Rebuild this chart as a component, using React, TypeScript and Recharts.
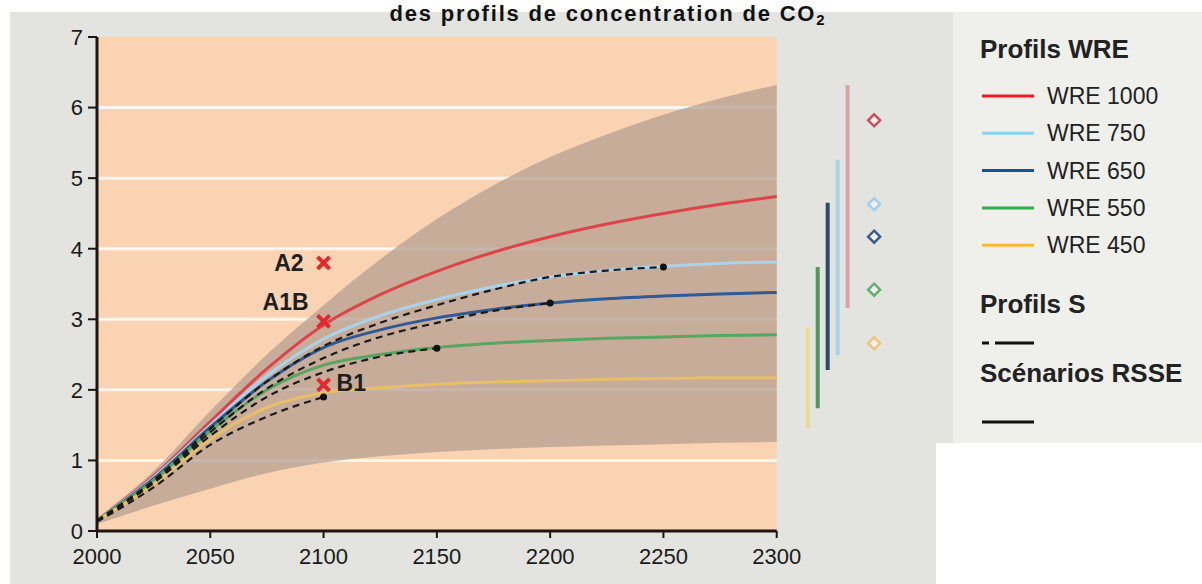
import React from 'react';
import { ComposedChart, Line, Area, XAxis, YAxis, ReferenceArea, ReferenceLine, Scatter } from 'recharts';

// années échantillonnées (abscisse)
const years = [2000, 2025, 2050, 2075, 2100, 2125, 2150, 2175, 2200, 2225, 2250, 2275, 2300];

// profils WRE (°C)
const wre1000 = [0.15, 0.78, 1.55, 2.3, 2.92, 3.35, 3.68, 3.95, 4.17, 4.35, 4.5, 4.63, 4.74];
const wre750 = [0.15, 0.76, 1.5, 2.2, 2.72, 3.05, 3.28, 3.46, 3.6, 3.69, 3.75, 3.79, 3.81];
const wre650 = [0.15, 0.74, 1.47, 2.12, 2.6, 2.85, 3.02, 3.14, 3.23, 3.29, 3.33, 3.36, 3.38];
const wre550 = [0.15, 0.72, 1.42, 2.0, 2.35, 2.5, 2.6, 2.66, 2.7, 2.73, 2.75, 2.77, 2.78];
const wre450 = [0.15, 0.66, 1.3, 1.75, 1.96, 2.03, 2.08, 2.11, 2.13, 2.15, 2.16, 2.17, 2.17];

// profils S (s'arrêtent à la stabilisation)
const s450 = [0.13, 0.62, 1.22, 1.62, 1.9];
const s550 = [0.14, 0.68, 1.35, 1.9, 2.25, 2.47, 2.59];
const s650 = [0.14, 0.7, 1.4, 2.02, 2.45, 2.75, 2.95, 3.12, 3.23];
const s750 = [0.15, 0.72, 1.45, 2.12, 2.62, 2.95, 3.2, 3.42, 3.6, 3.69, 3.74];

// fourchette d'incertitude
const bandLow = [0.1, 0.36, 0.6, 0.82, 0.97, 1.06, 1.12, 1.16, 1.19, 1.21, 1.23, 1.25, 1.26];
const bandHigh = [0.18, 0.85, 1.7, 2.5, 3.2, 3.85, 4.42, 4.9, 5.3, 5.62, 5.9, 6.13, 6.32];

// scénarios RSSE en 2100
const scenarioNames = ['A2', 'A1B', 'B1'];
const scenarioValues = [3.8, 2.97, 2.07];
const scenarioYear = 2100;

// équilibre (barres à droite) : 450, 550, 650, 750, 1000
const eqLow = [1.46, 1.74, 2.28, 2.49, 3.16];
const eqHigh = [2.88, 3.74, 4.65, 5.26, 6.32];
const eqBest = [2.66, 3.42, 4.17, 4.63, 5.82];

const xTicks = [2000, 2050, 2100, 2150, 2200, 2250, 2300];
const yTicks = [0, 1, 2, 3, 4, 5, 6, 7];

const wreNames = ['WRE 1000', 'WRE 750', 'WRE 650', 'WRE 550', 'WRE 450'];
const wreSeries = [wre1000, wre750, wre650, wre550, wre450];
const sSeries = [s450, s550, s650, s750];

const title = 'des profils de concentration de CO';

// styles
const FONT = '"Liberation Sans", Arial, Helvetica, sans-serif';
const INK = '#1e1512';
const plotColors = ['#dd4449', '#a9d3ea', '#2f5a94', '#58a660', '#e8bf66'];
const legendColors = ['#ed1c24', '#89d4f5', '#0058a6', '#2fae4a', '#f7b93a'];
const eqBarColors = ['#ecd98e', '#4f9a5c', '#2c4a6e', '#a9d1e6', '#d6a3a8'];
const eqDiamondColors = ['#f0c27a', '#62b070', '#3a5a90', '#9fd0f2', '#c8505c'];
const CROSS = '#e2272d';

const rows = years.map((year, i) => {
  const row: any = { year, band: [bandLow[i], bandHigh[i]] };
  wreSeries.forEach((s, k) => { row['wre' + k] = s[i]; });
  sSeries.forEach((s, k) => { row['s' + k] = s[i]; });
  return row;
});

const sEnds = sSeries.map((s) => ({ year: years[s.length - 1], value: s[s.length - 1] }));
const scenarios = scenarioNames.map((name, i) => ({ year: scenarioYear, value: scenarioValues[i], name }));
const barYear = (i: number) => 2313.7 + i * 4.4;
const diamonds = eqBest.map((v, k) => ({ year: 2343, value: v, k }));

const labelPos: Record<string, [number, number, 'start' | 'end']> = {
  A2: [-20, 0, 'end'],
  A1B: [-15, -20, 'end'],
  B1: [13, -2, 'start'],
};

function ScenarioMark(props: any) {
  const { cx, cy, payload } = props;
  if (cx == null || cy == null) return <g />;
  const s = 6;
  const [dx, dy, anchor] = labelPos[payload.name] ?? [-16, 0, 'end'];
  return (
    <g>
      <line x1={cx - s} y1={cy - s} x2={cx + s} y2={cy + s} stroke={CROSS} strokeWidth={4} />
      <line x1={cx - s} y1={cy + s} x2={cx + s} y2={cy - s} stroke={CROSS} strokeWidth={4} />
      <text x={cx + dx} y={cy + dy} dy="0.36em" textAnchor={anchor} fontSize={23} fontWeight="bold" fill="#1e1e1e" fontFamily={FONT}>
        {payload.name}
      </text>
    </g>
  );
}

function Diamond(props: any) {
  const { cx, cy, payload } = props;
  if (cx == null || cy == null) return <g />;
  const r = 6;
  return (
    <polygon
      points={`${cx},${cy - r} ${cx + r},${cy} ${cx},${cy + r} ${cx - r},${cy}`}
      fill="#f3f1ee"
      stroke={eqDiamondColors[payload.k]}
      strokeWidth={2.5}
    />
  );
}

function LegendPanel() {
  const rowY = (k: number) => 84 + k * 37.3;
  return (
    <svg width={249} height={431} style={{ position: 'absolute', left: 953, top: 12, background: '#efefec' }}>
      <text x={27} y={46} fontSize={26} fontWeight="bold" fill="#222" fontFamily={FONT}>Profils WRE</text>
      {wreNames.map((n, k) => (
        <g key={n}>
          <line x1={29} x2={81} y1={rowY(k)} y2={rowY(k)} stroke={legendColors[k]} strokeWidth={3} />
          <text x={94} y={rowY(k) + 8} fontSize={23} fill="#222" fontFamily={FONT}>{n}</text>
        </g>
      ))}
      <text x={27} y={301} fontSize={26} fontWeight="bold" fill="#222" fontFamily={FONT}>Profils S</text>
      <line x1={29} x2={36} y1={331} y2={331} stroke="#111" strokeWidth={3} />
      <line x1={42} x2={81} y1={331} y2={331} stroke="#111" strokeWidth={3} />
      <text x={27} y={370} fontSize={26} fontWeight="bold" fill="#222" fontFamily={FONT}>Scénarios RSSE</text>
      <line x1={29} x2={81} y1={410} y2={410} stroke="#111" strokeWidth={3} />
    </svg>
  );
}

export default function App() {
  const tickStyle = { fontSize: 22, fill: '#1a1a1a', fontFamily: FONT };
  return (
    <div style={{ position: 'absolute', left: 0, top: 0, width: 1202, height: 584, background: '#fff', overflow: 'hidden', fontFamily: FONT }}>
      <div style={{ position: 'absolute', left: 10, top: 12, width: 943, height: 431, background: '#e3e3df' }} />
      <div style={{ position: 'absolute', left: 10, top: 443, width: 926, height: 141, background: '#e3e3df' }} />
      <LegendPanel />
      <div style={{ position: 'absolute', left: 0, top: 0 }}>
        <ComposedChart width={1202} height={584} data={rows} margin={{ top: 37, right: 312, bottom: 13, left: 0 }}>
          <ReferenceArea x1={2000} x2={2300} y1={0} y2={7} fill="#fad3b3" fillOpacity={1} stroke="none" zIndex={-300} />
          {yTicks.filter((v) => v > 0 && v < 7).map((v) => (
            <ReferenceLine key={'g' + v} segment={[{ x: 2000, y: v }, { x: 2300, y: v }]} stroke="#fff6ee" strokeWidth={3} zIndex={-200} />
          ))}
          <Area
            type="monotone"
            dataKey="band"
            fill="#b39c90"
            fillOpacity={0.72}
            stroke="none"
            isAnimationActive={false}
            activeDot={false}
          />
          {wreSeries.map((_, k) => (
            <Line
              key={'wre' + k}
              type="monotone"
              dataKey={'wre' + k}
              stroke={plotColors[k]}
              strokeWidth={3}
              dot={false}
              activeDot={false}
              isAnimationActive={false}
            />
          ))}
          {sSeries.map((_, k) => (
            <Line
              key={'s' + k}
              type="monotone"
              dataKey={'s' + k}
              stroke="#1a1a1a"
              strokeWidth={2.2}
              strokeDasharray="7 5"
              dot={false}
              activeDot={false}
              isAnimationActive={false}
            />
          ))}
          <ReferenceLine segment={[{ x: 2000, y: 0 }, { x: 2300, y: 0 }]} stroke={INK} strokeWidth={3} zIndex={500} />
          {eqLow.map((lo, i) => (
            <ReferenceLine
              key={'eq' + i}
              segment={[{ x: barYear(i), y: lo }, { x: barYear(i), y: eqHigh[i] }]}
              stroke={eqBarColors[i]}
              strokeWidth={4}
            />
          ))}
          <Scatter data={sEnds} dataKey="value" isAnimationActive={false} shape={(p: any) => <circle cx={p.cx} cy={p.cy} r={3.5} fill="#111" />} />
          <Scatter data={diamonds} dataKey="value" isAnimationActive={false} shape={Diamond} />
          <Scatter data={scenarios} dataKey="value" isAnimationActive={false} shape={ScenarioMark} />
          <XAxis
            type="number"
            dataKey="year"
            domain={[2000, 2350]}
            ticks={xTicks}
            interval={0}
            allowDataOverflow
            axisLine={false}
            tickLine={{ stroke: INK, strokeWidth: 2 }}
            tickSize={7}
            tickMargin={10}
            tick={tickStyle}
            height={40}
          />
          <YAxis
            type="number"
            domain={[0, 7]}
            ticks={yTicks}
            interval={0}
            width={97}
            axisLine={{ stroke: INK, strokeWidth: 3 }}
            tickLine={{ stroke: INK, strokeWidth: 2 }}
            tickSize={9}
            tickMargin={5}
            tick={tickStyle}
          />
        </ComposedChart>
      </div>
      <div
        style={{
          position: 'absolute', left: 0, top: 2, width: 1216, textAlign: 'center',
          fontSize: 22, lineHeight: '24px', fontWeight: 'bold', letterSpacing: 1.8, color: '#111',
        }}
      >
        {title}<sub style={{ fontSize: 15, verticalAlign: '-4px' }}>2</sub>
      </div>
    </div>
  );
}
